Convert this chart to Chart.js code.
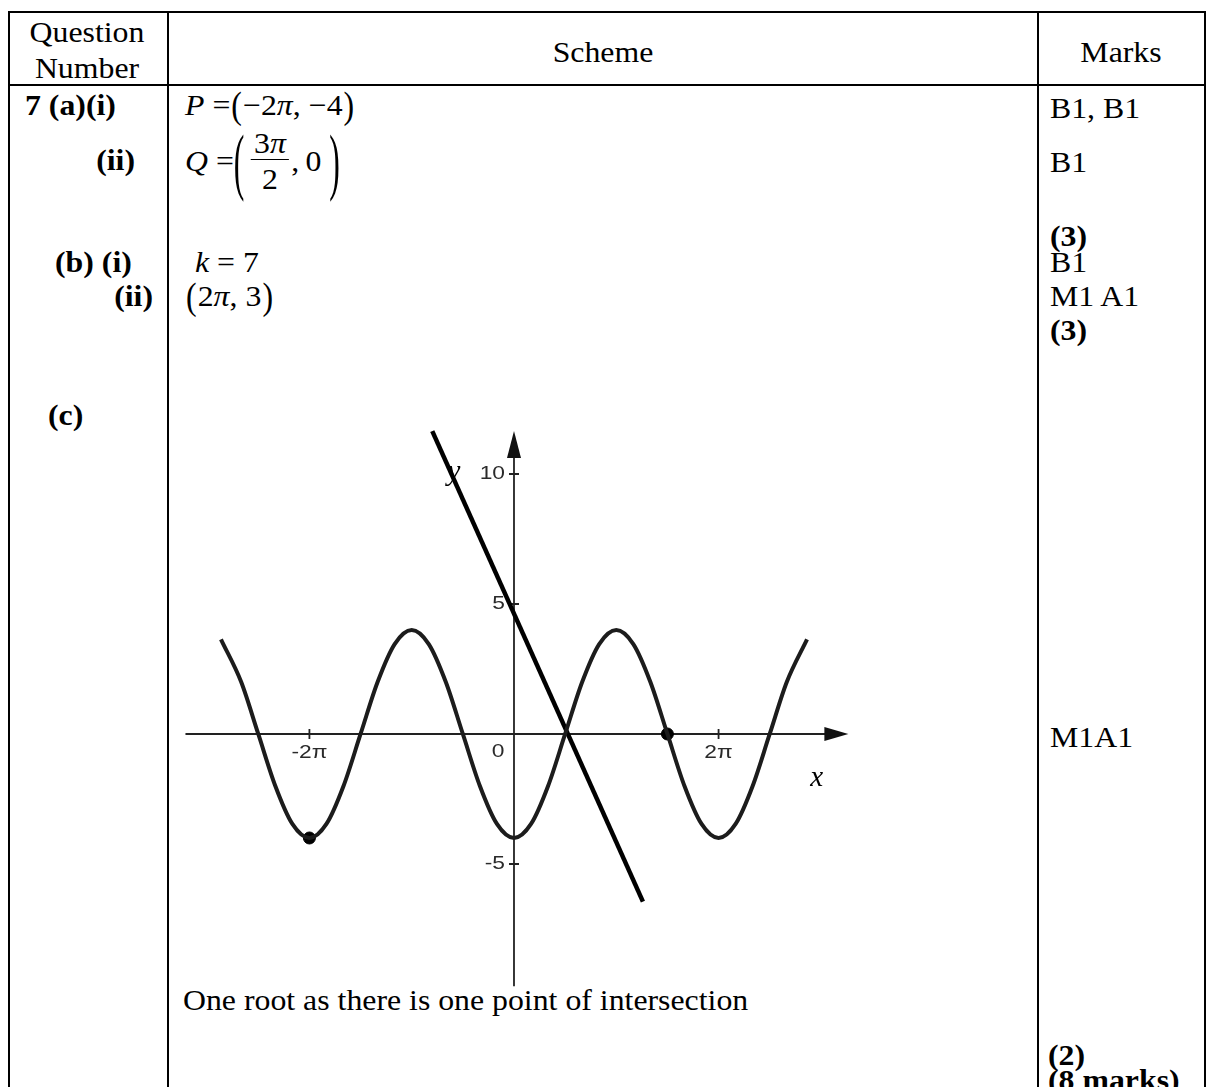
<!DOCTYPE html>
<html>
<head>
<meta charset="utf-8">
<script src="https://cdn.jsdelivr.net/npm/chart.js@4.4.1/dist/chart.umd.min.js"></script>
<style>
html, body { margin: 0; padding: 0; background: #fff; }
#page { position: relative; width: 1208px; height: 1087px; overflow: hidden; background: #fff;
  font-family: "Liberation Serif", "Times New Roman", serif; font-size: 30px; color: #000; }
.h { position: absolute; background: #000; height: 2px; }
.v { position: absolute; background: #000; width: 2px; }
.t { position: absolute; white-space: nowrap; line-height: 1; transform-origin: 0 0; transform: scaleX(1.06); }
.t.c { transform-origin: 50% 0; transform: translateX(-50%) scaleX(1.06); }
.t.r { transform-origin: 100% 0; transform: translateX(-100%) scaleX(1.06); }
.p { display: inline-block; transform: scaleY(1.25); margin: 0 1px; }
.bp { display: inline-block; transform: scaleY(2.5); }
.fr { display: inline-flex; flex-direction: column; align-items: center; margin: 0 2px 0 6px; }
.fr span { display: block; text-align: center; padding: 1px 3px; }
.fr .den { border-top: 1.5px solid #000; width: 100%; box-sizing: border-box; padding-top: 4px; }
#chartBox { position: absolute; left: 170px; top: 420px; width: 700px; height: 580px; }
</style>
</head>
<body>
<div id="page">
  <!-- рамка таблицы -->
  <div class="h" style="left:8px;top:11px;width:1198px"></div>
  <div class="h" style="left:8px;top:84px;width:1198px"></div>
  <div class="v" style="left:8px;top:11px;height:1076px"></div>
  <div class="v" style="left:167px;top:11px;height:1076px"></div>
  <div class="v" style="left:1037px;top:11px;height:1076px"></div>
  <div class="v" style="left:1204px;top:11px;height:1076px"></div>

  <!-- шапка -->
  <div class="t c" style="left:87px;top:17px">Question</div>
  <div class="t c" style="left:87px;top:53px">Number</div>
  <div class="t c" style="left:603px;top:37px">Scheme</div>
  <div class="t c" style="left:1121px;top:37px">Marks</div>

  <!-- номера -->
  <div class="t" style="left:25px;top:90px"><b>7 (a)(i)</b></div>
  <div class="t r" style="left:135px;top:145px"><b>(ii)</b></div>
  <div class="t" style="left:55px;top:247px"><b>(b) (i)</b></div>
  <div class="t r" style="left:153px;top:281px"><b>(ii)</b></div>
  <div class="t" style="left:48px;top:400px"><b>(c)</b></div>

  <!-- схема -->
  <div class="t" style="left:185px;top:90px"><i>P</i>&nbsp;=<span class="p">(</span>&minus;2<i>&pi;</i>,&nbsp;&minus;4<span class="p">)</span></div>
  <div class="t" style="left:185px;top:128px;height:66px;display:flex;align-items:center">
    <i>Q</i>&nbsp;=<span class="bp">(</span><span class="fr"><span>3<i>&pi;</i></span><span class="den">2</span></span>,&thinsp;0&nbsp;<span class="bp">)</span>
  </div>
  <div class="t" style="left:195px;top:247px"><i>k</i>&nbsp;=&nbsp;7</div>
  <div class="t" style="left:185px;top:281px"><span class="p">(</span>2<i>&pi;</i>,&nbsp;3<span class="p">)</span></div>
  <div class="t" style="left:183px;top:985px">One root as there is one point of intersection</div>

  <!-- баллы -->
  <div class="t" style="left:1050px;top:93px">B1, B1</div>
  <div class="t" style="left:1050px;top:147px">B1</div>
  <div class="t" style="left:1050px;top:221px"><b>(3)</b></div>
  <div class="t" style="left:1050px;top:247px">B1</div>
  <div class="t" style="left:1050px;top:281px">M1 A1</div>
  <div class="t" style="left:1050px;top:315px"><b>(3)</b></div>
  <div class="t" style="left:1050px;top:722px">M1A1</div>
  <div class="t" style="left:1048px;top:1040px"><b>(2)</b></div>
  <div class="t" style="left:1048px;top:1065px"><b>(8 marks)</b></div>

  <div id="chartBox"><canvas id="graph" width="700" height="580"></canvas></div>
</div>

<script>
// Данные графика
const curveX = [-9, -8.378, -7.854, -7.330, -6.807, -6.283, -5.760, -5.236, -4.712, -4.189, -3.665, -3.142,
  -2.618, -2.094, -1.571, -1.047, -0.524, 0, 0.524, 1.047, 1.571, 2.094, 2.618, 3.142,
  3.665, 4.189, 4.712, 5.236, 5.760, 6.283, 6.807, 7.330, 7.854, 8.378, 9];
const curveY = [3.64, 2, 0, -2, -3.46, -4, -3.46, -2, 0, 2, 3.46, 4,
  3.46, 2, 0, -2, -3.46, -4, -3.46, -2, 0, 2, 3.46, 4,
  3.46, 2, 0, -2, -3.46, -4, -3.46, -2, 0, 2, 3.64];
const lineX = [-2.51, 3.96];
const lineY = [11.65, -6.45];
const dotX = [-6.283, 4.712];   // P и Q
const dotY = [-4, 0];
const xTicks = [-6.283, 6.283];
const xTickLabels = ['-2\u03c0', '2\u03c0'];
const yTicks = [10, 5, -5];
const yTickLabels = ['10', '5', '-5'];
const xAxisSpan = [-10.09, 10.27];
const yAxisSpan = [-9.7, 11.65];

const toPts = (xs, ys) => xs.map((x, i) => ({ x: x, y: ys[i] }));

// текст с лёгким растяжением по горизонтали
function wideText(ctx, s, x, y, k) {
  ctx.save();
  ctx.translate(x, y);
  ctx.scale(k, 1);
  ctx.fillText(s, 0, 0);
  ctx.restore();
}

// Оси со стрелками, засечками и подписями
const axesPlugin = {
  id: 'axes',
  beforeDatasetsDraw(chart) {
    const ctx = chart.ctx;
    const sx = chart.scales.x, sy = chart.scales.y;
    const x0 = sx.getPixelForValue(0), y0 = sy.getPixelForValue(0);
    const xa = sx.getPixelForValue(xAxisSpan[0]), xb = sx.getPixelForValue(xAxisSpan[1]);
    const ya = sy.getPixelForValue(yAxisSpan[0]), yb = sy.getPixelForValue(yAxisSpan[1]);
    ctx.save();
    ctx.strokeStyle = '#222';
    ctx.fillStyle = '#111';
    ctx.lineWidth = 1.8;
    ctx.beginPath();
    ctx.moveTo(xa, y0); ctx.lineTo(xb - 10, y0);
    ctx.moveTo(x0, ya); ctx.lineTo(x0, yb + 10);
    ctx.stroke();
    // стрелки
    ctx.beginPath();
    ctx.moveTo(xb, y0); ctx.lineTo(xb - 24, y0 - 7); ctx.lineTo(xb - 24, y0 + 7); ctx.closePath();
    ctx.fill();
    ctx.beginPath();
    ctx.moveTo(x0, yb); ctx.lineTo(x0 - 7, yb + 27); ctx.lineTo(x0 + 7, yb + 27); ctx.closePath();
    ctx.fill();
    // засечки
    ctx.beginPath();
    xTicks.forEach(v => {
      const px = sx.getPixelForValue(v);
      ctx.moveTo(px, y0 - 5); ctx.lineTo(px, y0 + 5);
    });
    yTicks.forEach(v => {
      const py = sy.getPixelForValue(v);
      ctx.moveTo(x0 - 5, py); ctx.lineTo(x0 + 5, py);
    });
    ctx.stroke();
    // подписи
    ctx.fillStyle = '#2a2a2a';
    ctx.font = '19px "Liberation Sans", Arial, sans-serif';
    ctx.textBaseline = 'middle';
    ctx.textAlign = 'center';
    xTicks.forEach((v, i) => wideText(ctx, xTickLabels[i], sx.getPixelForValue(v), y0 + 19, 1.2));
    wideText(ctx, '0', x0 - 16, y0 + 18, 1.2);
    ctx.textAlign = 'right';
    yTicks.forEach((v, i) => wideText(ctx, yTickLabels[i], x0 - 9, sy.getPixelForValue(v), 1.2));
    ctx.fillStyle = '#000';
    ctx.font = 'italic 29px "Liberation Serif", "Times New Roman", serif';
    ctx.textAlign = 'center';
    ctx.fillText('y', x0 - 60, sy.getPixelForValue(10) - 2);
    ctx.fillText('x', sx.getPixelForValue(9.3), y0 + 44);
    ctx.restore();
  }
};

new Chart(document.getElementById('graph'), {
  type: 'scatter',
  data: {
    datasets: [
      { data: toPts(curveX, curveY), showLine: true, borderColor: '#1c1c1c', borderWidth: 4,
        pointRadius: 0, cubicInterpolationMode: 'monotone', clip: false },
      { data: toPts(lineX, lineY), showLine: true, borderColor: '#000', borderWidth: 4.5,
        pointRadius: 0, clip: false },
      { data: toPts(dotX, dotY), showLine: false, pointRadius: 6,
        backgroundColor: '#000', borderColor: '#000', clip: false }
    ]
  },
  options: {
    responsive: false,
    animation: false,
    layout: { padding: 0, autoPadding: false },
    plugins: { legend: { display: false }, tooltip: { enabled: false } },
    scales: {
      x: { type: 'linear', min: -10.565, max: 10.934, display: false },
      y: { type: 'linear', min: -10.231, max: 12.077, display: false }
    }
  },
  plugins: [axesPlugin]
});
</script>
</body>
</html>
